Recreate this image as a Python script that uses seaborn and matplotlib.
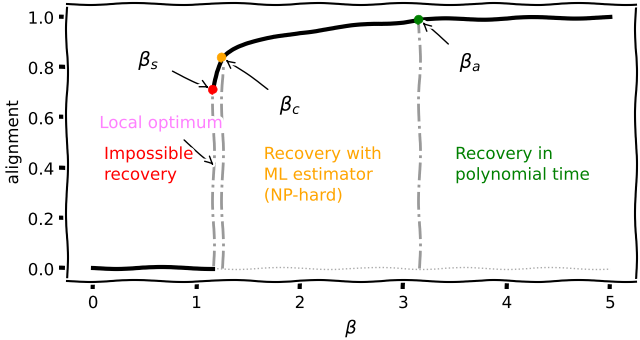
import matplotlib
matplotlib.use("Agg")
import matplotlib.pyplot as plt
import seaborn as sns
import numpy as np
import pandas as pd

# zero (stable) branch
beta_zero = [0.0, 0.5, 1.0, 1.16]
align_zero = [0.0, 0.0, 0.0, 0.0]
# unstable zero branch (dotted)
beta_unst = [1.16, 2.0, 3.0, 4.0, 5.0]
align_unst = [0.0, 0.0, 0.0, 0.0, 0.0]
# informative branch
beta_inf = [1.16, 1.175, 1.19, 1.21, 1.23, 1.245, 1.27, 1.3, 1.35, 1.4, 1.5, 1.75, 2.0,
            2.5, 3.0, 3.15, 3.5, 4.0, 4.5, 5.0]
align_inf = [0.71, 0.75, 0.78, 0.805, 0.825, 0.838, 0.848, 0.858, 0.87, 0.879, 0.892, 0.918,
             0.938, 0.962, 0.98, 0.988, 0.99, 0.993, 0.996, 0.997]
# critical points
crit_beta = [1.16, 1.245, 3.15]
crit_align = [0.71, 0.838, 0.988]
crit_colors = ["red", "orange", "green"]
crit_labels = [r"$\beta_s$", r"$\beta_c$", r"$\beta_a$"]

with plt.xkcd():
    plt.rcParams['font.family'] = ['DejaVu Sans']
    fig = plt.figure(figsize=(6.4, 3.4), dpi=100)
    ax = fig.add_axes([0.105, 0.174, 0.889, 0.814])

    df0 = pd.DataFrame({"beta": beta_zero, "alignment": align_zero})
    dfu = pd.DataFrame({"beta": beta_unst, "alignment": align_unst})
    dfi = pd.DataFrame({"beta": beta_inf, "alignment": align_inf})

    sns.lineplot(data=dfu, x="beta", y="alignment", ax=ax, color="#aaaaaa", lw=1,
                 linestyle=":", estimator=None)
    for b, a in zip(crit_beta, crit_align):
        sns.lineplot(x=[b, b], y=[0, a], ax=ax, color="#999999", lw=2, linestyle="-.",
                     estimator=None, sort=False)
    sns.lineplot(data=df0, x="beta", y="alignment", ax=ax, color="black", lw=3, estimator=None)
    sns.lineplot(data=dfi, x="beta", y="alignment", ax=ax, color="black", lw=3, estimator=None)
    sns.scatterplot(x=crit_beta, y=crit_align, hue=crit_labels, palette=crit_colors,
                    ax=ax, s=30, legend=False, zorder=5, edgecolor=None)

    ax.set_xlim(-0.25, 5.25)
    ax.set_ylim(-0.05, 1.05)
    ax.set_xticks([0, 1, 2, 3, 4, 5])
    ax.set_yticks([0.0, 0.2, 0.4, 0.6, 0.8, 1.0])
    ax.set_yticklabels(["0.0", "0.2", "0.4", "0.6", "0.8", "1.0"])
    ax.tick_params(labelsize=12, length=6, width=3)
    ax.set_xlabel(r"$\beta$", fontsize=13)
    ax.set_ylabel("alignment", fontsize=12)

    text_pos = [(0.54, 0.826), (1.91, 0.648), (3.65, 0.818)]
    for (b, a), lab, (tx, ty) in zip(zip(crit_beta, crit_align), crit_labels, text_pos):
        ax.annotate(lab, xy=(b, a), xytext=(tx, ty), fontsize=14, ha="center", va="center",
                    arrowprops=dict(arrowstyle="->", color="black", lw=1,
                                    shrinkA=8, shrinkB=3))

    ax.text(0.06, 0.577, "Local optimum", color="#ff80ff", fontsize=12, ha="left", va="center")
    ax.annotate("", xy=(1.17, 0.41), xytext=(0.88, 0.51),
                arrowprops=dict(arrowstyle="->", color="black", lw=1, shrinkA=0, shrinkB=0))

    ax.text(0.106, 0.49, "Impossible\nrecovery", color="red", fontsize=12, ha="left", va="top")
    ax.text(1.65, 0.49, "Recovery with\nML estimator\n(NP-hard)", color="orange", fontsize=12,
            ha="left", va="top")
    ax.text(3.50, 0.49, "Recovery in\npolynomial time", color="green", fontsize=12,
            ha="left", va="top")

    fig.savefig("out.png", dpi=100)
